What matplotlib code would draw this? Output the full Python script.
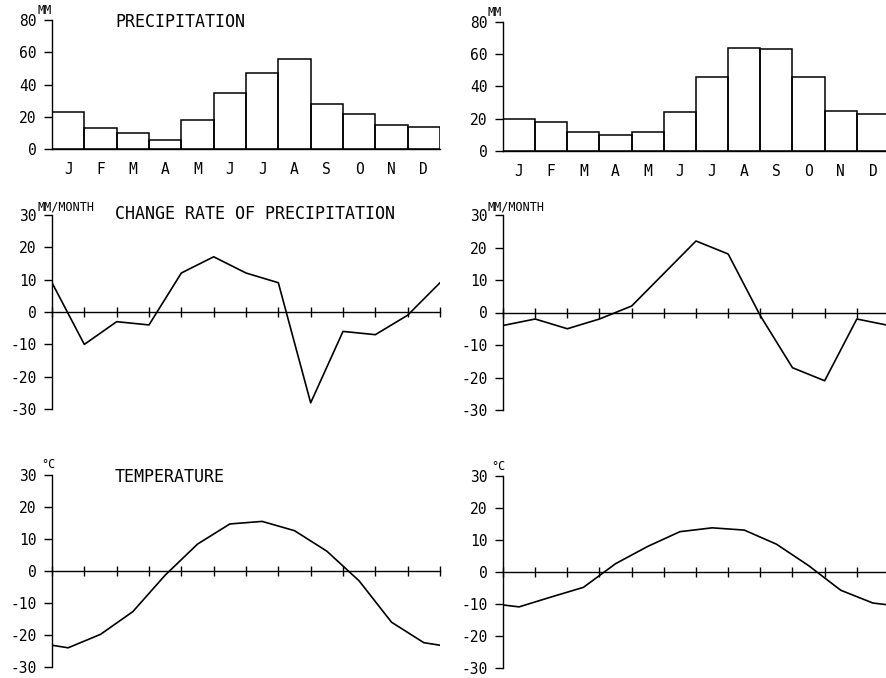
import numpy as np
import matplotlib
matplotlib.use('Agg')
import matplotlib.pyplot as plt

plt.rcParams['font.family'] = 'DejaVu Sans Mono'
plt.rcParams['axes.unicode_minus'] = False

W, H = 887, 678

# ── Dados ─────────────────────────────────────────────────────────────────────
meses = ['J', 'F', 'M', 'A', 'M', 'J', 'J', 'A', 'S', 'O', 'N', 'D']

prec_a = [23, 13, 10, 6, 18, 35, 47, 56, 28, 22, 15, 14]
prec_b = [20, 18, 12, 10, 12, 24, 46, 64, 63, 46, 25, 23]

# variação entre meses, nos limites (0..12)
taxa_a = [9, -10, -3, -4, 12, 17, 12, 9, -28, -6, -7, -1, 9]
taxa_b = [-4, -2, -5, -2, 2, 12, 22, 18, -1, -17, -21, -2, -4]

temp_a = [-24, -19.8, -12.7, -1.3, 8.4, 14.7, 15.5, 12.6, 6.2, -3.1, -16, -22.4]
temp_b = [-10.9, -7.8, -4.8, 2.6, 8.0, 12.6, 13.8, 13.1, 8.7, 2.0, -5.7, -9.7]

meio = np.arange(12) + 0.5
limites = np.arange(13)


def eixo(x0, x1, y_top, y_bot):
    """Cria eixo a partir de coordenadas em pixels."""
    return fig.add_axes([x0 / W, 1 - y_bot / H, (x1 - x0) / W, (y_bot - y_top) / H])


def estilo(ax, ylim, yticks):
    ax.set_xlim(0, 12)
    ax.set_ylim(*ylim)
    ax.set_yticks(yticks)
    ax.set_yticklabels([str(v) for v in yticks], fontsize=10.5)
    ax.spines['top'].set_visible(False)
    ax.spines['right'].set_visible(False)
    for s in ('left', 'bottom'):
        ax.spines[s].set_linewidth(1.0)
    ax.tick_params(axis='y', direction='out', length=6, width=1.0, pad=5)
    ax.patch.set_alpha(0)


def linha(ax, mensal):
    # valores no meio do mês, fechando o ciclo dez → jan nas bordas
    x = np.concatenate([[-0.5], meio, [12.5]])
    y = np.concatenate([[mensal[-1]], mensal, [mensal[0]]])
    ax.plot(x, y, color='black', lw=1.2, clip_on=True)


fig = plt.figure(figsize=(W / 100, H / 100), dpi=100)

# ── Precipitação ─────────────────────────────────────────────────────────────
for (x0, x1, yt, yb), dados in [((52, 440, 20, 149.3), prec_a),
                                ((503, 889, 21.7, 151), prec_b)]:
    ax = eixo(x0, x1, yt, yb)
    estilo(ax, (0, 80), [0, 20, 40, 60, 80])
    ax.bar(meio, dados, width=1, fill=False, edgecolor='black', linewidth=1.1)
    ax.set_xticks(meio)
    ax.set_xticklabels(meses, fontsize=10.5)
    ax.tick_params(axis='x', length=0, pad=9)

# ── Taxa de variação ─────────────────────────────────────────────────────────
for (x0, x1, yt, yb), dados in [((52, 440, 214.6, 409.3), taxa_a),
                                ((503, 889, 215, 410), taxa_b)]:
    ax = eixo(x0, x1, yt, yb)
    estilo(ax, (-30, 30), [-30, -20, -10, 0, 10, 20, 30])
    ax.spines['bottom'].set_position(('data', 0))
    ax.set_xticks(limites)
    ax.set_xticklabels([])
    ax.tick_params(axis='x', direction='inout', length=7, width=1.0)
    ax.plot(limites, dados, color='black', lw=1.2)

# ── Temperatura ──────────────────────────────────────────────────────────────
for (x0, x1, yt, yb), dados in [((52, 440, 475, 667), temp_a),
                                ((503, 889, 476, 668), temp_b)]:
    ax = eixo(x0, x1, yt, yb)
    estilo(ax, (-30, 30), [-30, -20, -10, 0, 10, 20, 30])
    ax.spines['bottom'].set_position(('data', 0))
    ax.set_xticks(limites)
    ax.set_xticklabels([])
    ax.tick_params(axis='x', direction='inout', length=7, width=1.0)
    linha(ax, dados)

# ── Textos ───────────────────────────────────────────────────────────────────
def texto(x, y, s, **kw):
    fig.text(x / W, 1 - y / H, s, va='center', ha='left', **kw)

texto(115, 22, 'PRECIPITATION', fontsize=12)
texto(115, 214, 'CHANGE RATE OF PRECIPITATION', fontsize=12)
texto(115, 477, 'TEMPERATURE', fontsize=12)

texto(37, 10, 'MM', fontsize=8.5)
texto(488, 12, 'MM', fontsize=8.5)
texto(37, 207, 'MM/MONTH', fontsize=8.5)
texto(488, 207, 'MM/MONTH', fontsize=8.5)
texto(41, 465, '°C', fontsize=8.5)
texto(491, 466, '°C', fontsize=8.5)

fig.savefig('out.png', dpi=100)
